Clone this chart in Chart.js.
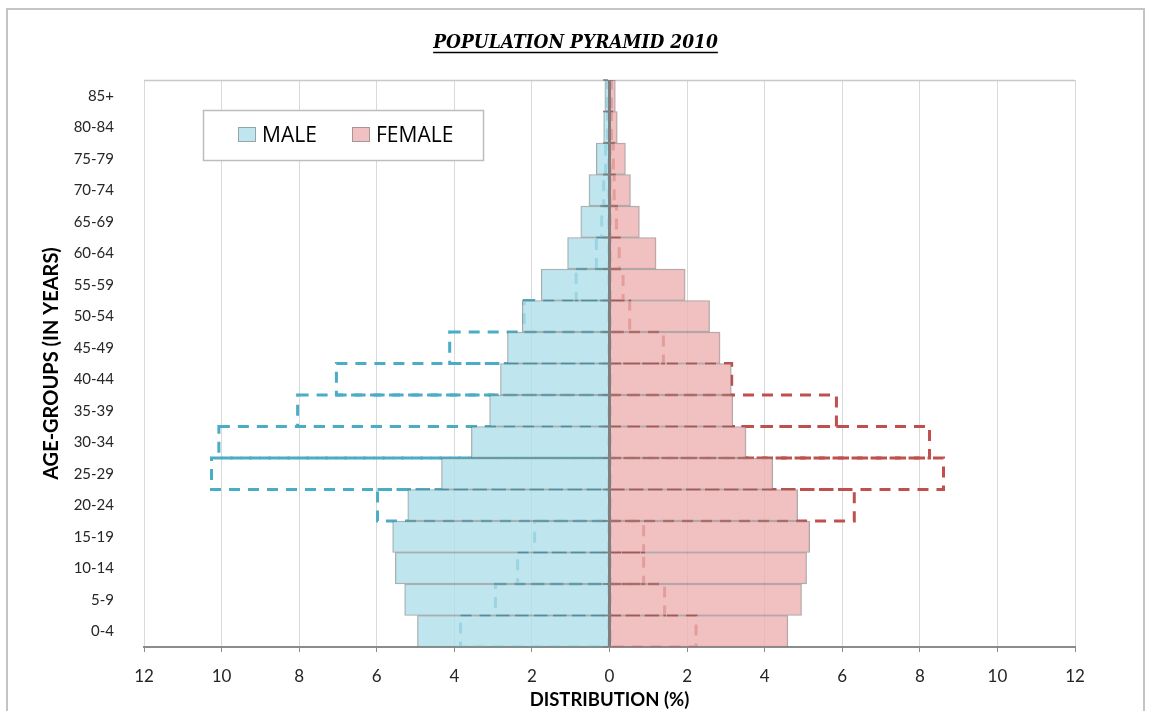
<!DOCTYPE html>
<html>
<head>
<meta charset="utf-8">
<script src="https://cdn.jsdelivr.net/npm/chart.js@4.4.1/dist/chart.umd.min.js"></script>
<style>
  html, body { margin: 0; padding: 0; background: #ffffff; }
  #wrap { width: 1151px; height: 711px; position: relative; overflow: hidden; }
  canvas { display: block; }
</style>
</head>
<body>
<div id="wrap"><canvas id="c" width="1151" height="711"></canvas></div>
<script>
// ---- data (top to bottom of the pyramid) ----
const ageGroups = ['85+','80-84','75-79','70-74','65-69','60-64','55-59','50-54','45-49',
                   '40-44','35-39','30-34','25-29','20-24','15-19','10-14','5-9','0-4'];
const maleShare   = [0.12, 0.15, 0.34, 0.53, 0.74, 1.08, 1.76, 2.25, 2.63,
                     2.81, 3.09, 3.56, 4.33, 5.20, 5.59, 5.52, 5.28, 4.95];
const femaleShare = [0.15, 0.20, 0.41, 0.54, 0.77, 1.20, 1.95, 2.58, 2.85,
                     3.14, 3.18, 3.52, 4.21, 4.85, 5.16, 5.08, 4.95, 4.60];
const maleOutline   = [0.05, 0.05, 0.10, 0.15, 0.20, 0.34, 0.86, 2.20, 4.12,
                       7.04, 8.04, 10.07, 10.26, 5.98, 1.93, 2.37, 2.94, 3.84];
const femaleOutline = [0.05, 0.05, 0.10, 0.12, 0.18, 0.25, 0.35, 0.52, 1.39,
                       3.15, 5.85, 8.25, 8.61, 6.31, 0.88, 0.88, 1.42, 2.23];
const xMin = -12, xMax = 12, xStep = 2;
const chartTitle = 'POPULATION PYRAMID 2010';
const xAxisTitle = 'DISTRIBUTION (%)';
const yAxisTitle = 'AGE-GROUPS (IN YEARS)';
const seriesNames = ['MALE', 'FEMALE'];

// ---- plugins ----
const framePlugin = {
  id: 'frame',
  beforeDraw(chart) {
    const ctx = chart.ctx;
    ctx.save();
    ctx.fillStyle = '#ffffff';
    ctx.fillRect(0, 0, chart.width, chart.height);
    ctx.strokeStyle = '#c4c4c4';
    ctx.lineWidth = 2;
    ctx.strokeRect(7, 9, chart.width - 14, chart.height + 20);
    ctx.restore();
  },
  beforeDatasetsDraw(chart) {
    const {ctx, chartArea: a} = chart;
    ctx.save();
    ctx.strokeStyle = '#c8c8c8';
    ctx.lineWidth = 1.5;
    ctx.beginPath();
    ctx.moveTo(a.left, a.top + 0.5);
    ctx.lineTo(a.right, a.top + 0.5);
    ctx.stroke();
    ctx.restore();
  }
};

const dashedOutlinePlugin = {
  id: 'dashedOutline',
  afterDatasetDraw(chart, args) {
    const ds = chart.data.datasets[args.index];
    if (!ds.dashed) return;
    const ctx = chart.ctx;
    const a = chart.chartArea;
    ctx.save();
    ctx.beginPath();
    ctx.rect(a.left, a.top, a.right - a.left, a.bottom - a.top);
    ctx.clip();
    ctx.setLineDash([11, 8]);
    ctx.lineWidth = 3;
    ctx.strokeStyle = ds.borderColor;
    args.meta.data.forEach(el => {
      const p = el.getProps(['x', 'y', 'base', 'height'], true);
      const left = Math.min(p.x, p.base);
      const w = Math.abs(p.x - p.base);
      ctx.strokeRect(left, p.y - p.height / 2, w, p.height);
    });
    ctx.restore();
  }
};

// vertical axis line at x = 0 with tick marks between age groups
const centerAxisPlugin = {
  id: 'centerAxis',
  afterDatasetsDraw(chart) {
    const {ctx, chartArea: a, scales} = chart;
    const x0 = scales.x.getPixelForValue(0);
    const n = chart.data.labels.length;
    const step = (scales.y.getPixelForValue(1) - scales.y.getPixelForValue(0));
    ctx.save();
    ctx.strokeStyle = '#7f7f7f';
    ctx.lineWidth = 3;
    ctx.beginPath();
    ctx.moveTo(x0, a.top);
    ctx.lineTo(x0, a.bottom);
    ctx.stroke();
    ctx.lineWidth = 1.5;
    ctx.beginPath();
    for (let i = 0; i <= n; i++) {
      const yy = scales.y.getPixelForValue(0) - step / 2 + i * step;
      ctx.moveTo(x0 - 1.5, yy);
      ctx.lineTo(x0 - 6.5, yy);
    }
    ctx.stroke();
    ctx.restore();
  }
};

const boxLegendPlugin = {
  id: 'boxLegend',
  afterDraw(chart) {
    const {ctx, chartArea: a} = chart;
    const items = chart.data.datasets.filter(d => !d.dashed);
    const bx = a.left + 59, by = a.top + 30, bw = 280, bh = 50;
    ctx.save();
    ctx.fillStyle = '#ffffff';
    ctx.fillRect(bx, by, bw, bh);
    ctx.strokeStyle = '#bdbdbd';
    ctx.lineWidth = 1.5;
    ctx.strokeRect(bx + 0.5, by + 0.5, bw, bh);
    ctx.font = '21px "Open Sans", "Liberation Sans", sans-serif';
    ctx.textBaseline = 'alphabetic';
    ctx.textAlign = 'left';
    const xs = [bx + 35, bx + 149];
    items.forEach((d, i) => {
      const sx = xs[i], sy = by + 17;
      ctx.fillStyle = d.backgroundColor;
      ctx.fillRect(sx, sy, 18, 15);
      ctx.strokeStyle = 'rgba(120,120,120,0.6)';
      ctx.lineWidth = 1;
      ctx.strokeRect(sx + 0.5, sy + 0.5, 17, 14);
      ctx.fillStyle = '#000000';
      ctx.fillText(d.label, sx + 24, by + 32);
    });
    ctx.restore();
  }
};

const titleUnderlinePlugin = {
  id: 'titleUnderline',
  afterDraw(chart) {
    const tb = chart.titleBlock;
    if (!tb) return;
    const o = chart.options.plugins.title;
    const ctx = chart.ctx;
    ctx.save();
    ctx.font = `italic bold ${o.font.size}px ${o.font.family}`;
    const w = ctx.measureText(o.text).width;
    const cx = (tb.left + tb.right) / 2;
    const cy = tb.top + o.padding.top + o.font.size * 1.2 / 2;
    ctx.strokeStyle = '#000';
    ctx.lineWidth = 1.5;
    ctx.beginPath();
    ctx.moveTo(cx - w / 2, cy + 9);
    ctx.lineTo(cx + w / 2, cy + 9);
    ctx.stroke();
    ctx.restore();
  }
};

// ---- datasets ----
const maleFill = 'rgba(175,222,234,0.8)';
const femaleFill = 'rgba(238,176,176,0.8)';
const datasets = [
  {
    label: seriesNames[0],
    data: maleShare.map(v => -v),
    backgroundColor: maleFill,
    borderColor: 'rgba(110,110,110,0.6)',
    borderWidth: 1,
    order: 0
  },
  {
    label: seriesNames[1],
    data: femaleShare,
    backgroundColor: femaleFill,
    borderColor: 'rgba(110,110,110,0.6)',
    borderWidth: 1,
    order: 0
  },
  {
    label: seriesNames[0] + ' (outline)',
    data: maleOutline.map(v => -v),
    backgroundColor: 'rgba(0,0,0,0)',
    borderColor: '#4BACC6',
    borderWidth: 0,
    dashed: true,
    order: 1
  },
  {
    label: seriesNames[1] + ' (outline)',
    data: femaleOutline,
    backgroundColor: 'rgba(0,0,0,0)',
    borderColor: '#C0504D',
    borderWidth: 0,
    dashed: true,
    order: 1
  }
];

const labelFont = '"Lato", "DejaVu Sans", sans-serif';

new Chart(document.getElementById('c'), {
  type: 'bar',
  data: { labels: ageGroups, datasets: datasets },
  plugins: [framePlugin, dashedOutlinePlugin, centerAxisPlugin, boxLegendPlugin, titleUnderlinePlugin],
  options: {
    indexAxis: 'y',
    responsive: false,
    animation: false,
    layout: { padding: { left: 0, right: 0, top: 0, bottom: 0 } },
    datasets: {
      bar: { grouped: false, barPercentage: 1, categoryPercentage: 1 }
    },
    plugins: {
      legend: { display: false },
      tooltip: { enabled: false },
      title: {
        display: true,
        text: chartTitle,
        color: '#000000',
        font: { family: '"DejaVu Serif Condensed", "Liberation Serif", serif', size: 19, style: 'italic', weight: 'bold', lineHeight: 1.2 },
        padding: { top: 32, bottom: 25.2 }
      }
    },
    scales: {
      x: {
        type: 'linear',
        min: xMin, max: xMax,
        position: 'bottom',
        afterFit(s) { s.height = 64; },
        ticks: {
          stepSize: xStep,
          color: '#262626',
          font: { family: labelFont, size: 17 },
          padding: 14,
          callback: v => Math.abs(v)
        },
        grid: {
          color: '#d9d9d9',
          lineWidth: 1,
          drawTicks: true,
          tickLength: 5,
          tickColor: '#8c8c8c'
        },
        border: { display: true, color: '#8c8c8c', width: 2 },
        title: {
          display: true,
          text: xAxisTitle,
          color: '#000000',
          font: { family: labelFont, size: 18.5, weight: 'bold', lineHeight: 1.2 },
          padding: { top: 0, bottom: 0 }
        }
      },
      y: {
        type: 'category',
        position: 'left',
        offset: true,
        afterFit(s) { s.width = 144; },
        ticks: {
          color: '#262626',
          font: { family: labelFont, size: 15 },
          padding: 22
        },
        grid: { display: false, offset: true },
        border: { display: false },
        title: {
          display: true,
          text: yAxisTitle,
          color: '#000000',
          font: { family: labelFont, size: 20, weight: 'bold', lineHeight: 1.2 },
          padding: { top: 40, bottom: 0 }
        }
      },
      yRight: {
        type: 'category',
        axis: 'y',
        position: 'right',
        afterFit(s) { s.width = 76; },
        ticks: { display: false },
        grid: { display: false },
        border: { display: false }
      }
    }
  }
});
</script>
</body>
</html>
